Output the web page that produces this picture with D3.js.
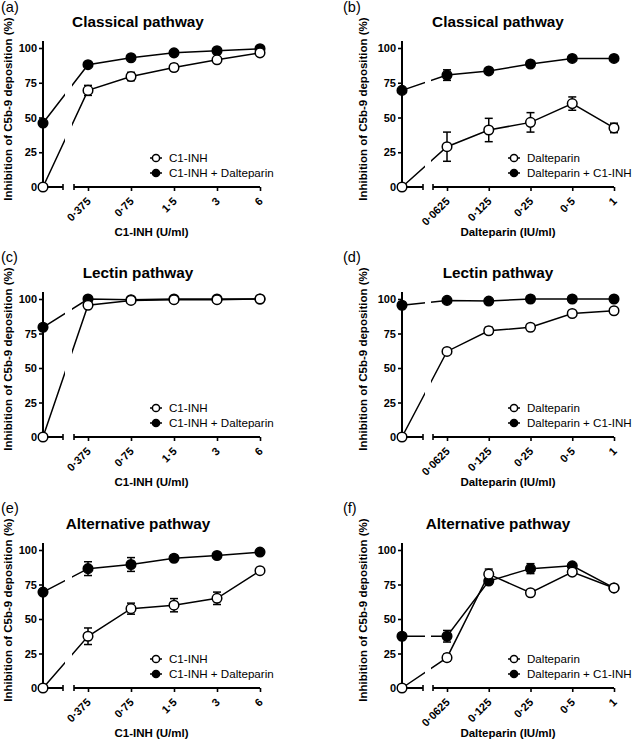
<!DOCTYPE html>
<html><head><meta charset="utf-8">
<script src="https://cdn.jsdelivr.net/npm/d3@7"></script>
<style>
html,body{margin:0;padding:0;background:#fff;}
svg{display:block;font-family:"Liberation Sans",Arial,sans-serif;}
</style></head>
<body><svg id="c" width="633" height="741"></svg>
<script>
// ---- data ----
const concC1 = ["0·375", "0·75", "1·5", "3", "6"];
const concDal = ["0·0625", "0·125", "0·25", "0·5", "1"];
const yTicks = [0, 25, 50, 75, 100];

const panelLetters = ["(a)", "(b)", "(c)", "(d)", "(e)", "(f)"];
const panelTitles = ["Classical pathway", "Classical pathway", "Lectin pathway", "Lectin pathway", "Alternative pathway", "Alternative pathway"];
const xTitles = ["C1-INH (U/ml)", "Dalteparin (IU/ml)"];
const legendC1 = ["C1-INH", "C1-INH + Dalteparin"];
const legendDal = ["Dalteparin", "Dalteparin + C1-INH"];

// first value is the zero-concentration point
const aOpen = [0, 69.5, 79.5, 86, 91.5, 96.5];
const aOpenErr = [0, 3.6, 3, 2.3, 0, 0];
const aFilled = [46, 88, 93, 96.5, 98, 99.5];
const aFilledErr = [0, 0, 0, 0, 0, 0];

const bOpen = [0, 29, 41, 46.5, 60, 42.5];
const bOpenErr = [0, 10.5, 8.4, 7, 4.8, 3.4];
const bFilled = [69.5, 80.5, 83.5, 88.5, 92.5, 92.5];
const bFilledErr = [0, 3.8, 0, 0, 0, 0];

const cOpen = [0, 95.5, 99, 99.5, 99.5, 100];
const cOpenErr = [0, 0, 0, 0, 0, 0];
const cFilled = [79.5, 100, 99.5, 100, 100, 100];
const cFilledErr = [0, 0, 0, 0, 0, 0];

const dOpen = [0, 62, 77, 79.5, 89.5, 91.5];
const dOpenErr = [0, 0, 2.5, 0, 0, 0];
const dFilled = [95.5, 99, 98.5, 100, 100, 100];
const dFilledErr = [0, 0, 0, 0, 0, 0];

const eOpen = [0, 37.5, 57.5, 60, 65, 85];
const eOpenErr = [0, 6, 4, 4.8, 4.5, 0];
const eFilled = [69.5, 86.5, 89.5, 94, 96, 98.5];
const eFilledErr = [0, 5, 5, 2, 0, 0];

const fOpen = [0, 22, 82.5, 69, 84, 72.5];
const fOpenErr = [0, 2.5, 3.7, 0, 0, 0];
const fFilled = [37.5, 37.5, 77.5, 86.5, 88.5, 72.5];
const fFilledErr = [0, 4.2, 0, 3.6, 0, 0];

// ---- layout ----
const cols = [
  {ax: 43, b1: 63, b2: 74, first: 88, last: 260, tx: 138, ylx: 12, lx: 156, conc: concC1, xt: xTitles[0], leg: legendC1, lab: 1},
  {ax: 402, b1: 423, b2: 433, first: 447, last: 614, tx: 498, ylx: 367, lx: 514, conc: concDal, xt: xTitles[1], leg: legendDal, lab: 343}
];
const rows = [
  {y0: 187, y100: 48, lb: 11.5, tb: 27},
  {y0: 437, y100: 299, lb: 262, tb: 278},
  {y0: 688, y100: 550, lb: 512.5, tb: 529}
];
const panels = [
  [aOpen, aOpenErr, aFilled, aFilledErr],
  [bOpen, bOpenErr, bFilled, bFilledErr],
  [cOpen, cOpenErr, cFilled, cFilledErr],
  [dOpen, dOpenErr, dFilled, dFilledErr],
  [eOpen, eOpenErr, eFilled, eFilledErr],
  [fOpen, fOpenErr, fFilled, fFilledErr]
];

const svg = d3.select("#c");
const defs = svg.append("defs");

panels.forEach((pd, pi) => {
  const col = cols[pi % 2], row = rows[Math.floor(pi / 2)];
  const g = svg.append("g");
  const y = d3.scaleLinear().domain([0, 100]).range([row.y0, row.y100]);
  const xs = d3.scalePoint().domain(col.conc).range([col.first, col.last]);
  const xOf = i => i === 0 ? col.ax : xs(col.conc[i - 1]);

  // panel letter & title
  g.append("text").attr("x", col.lab).attr("y", row.lb).attr("font-size", 14.5).text(panelLetters[pi]);
  g.append("text").attr("x", col.tx).attr("y", row.tb).attr("text-anchor", "middle")
    .attr("font-size", 15.3).attr("font-weight", "bold").text(panelTitles[pi]);

  // y axis
  const ya = g.append("g").attr("transform", `translate(${col.ax},0)`)
    .call(d3.axisLeft(y).tickValues(yTicks).tickSize(4).tickPadding(2));
  ya.select(".domain").remove();
  ya.selectAll(".tick line").attr("stroke-width", 1.6);
  ya.selectAll(".tick text").attr("font-size", 11).attr("font-weight", "bold")
    .attr("font-family", "Liberation Sans, Arial, sans-serif").attr("fill", "#000");
  g.append("line").attr("x1", col.ax).attr("x2", col.ax).attr("y1", y(105)).attr("y2", y(0))
    .attr("stroke", "#000").attr("stroke-width", 2);

  // x axis
  const xa = g.append("g").attr("transform", `translate(0,${row.y0})`)
    .call(d3.axisBottom(xs).tickSize(4));
  xa.select(".domain").remove();
  xa.selectAll(".tick line").attr("stroke-width", 1.6);
  xa.selectAll(".tick text").attr("font-size", 11).attr("font-weight", "bold")
    .attr("font-family", "Liberation Sans, Arial, sans-serif").attr("fill", "#000")
    .attr("text-anchor", "end").attr("x", 0).attr("y", 0).attr("dy", 0)
    .attr("transform", "translate(3,15) rotate(-45)");
  [[col.ax, col.b1], [col.b2, col.last]].forEach(s => {
    g.append("line").attr("x1", s[0]).attr("x2", s[1]).attr("y1", row.y0).attr("y2", row.y0)
      .attr("stroke", "#000").attr("stroke-width", 2);
  });
  [col.b1, col.b2].forEach(bx => {
    g.append("line").attr("x1", bx).attr("x2", bx).attr("y1", row.y0 - 3).attr("y2", row.y0 + 3)
      .attr("stroke", "#000").attr("stroke-width", 1.6);
  });

  // axis titles
  g.append("text").attr("x", (col.ax + col.last) / 2).attr("y", row.y0 + 49).attr("text-anchor", "middle")
    .attr("font-size", 11.5).attr("font-weight", "bold").text(col.xt);
  g.append("text").attr("transform", `translate(${col.ylx},${row.y0 - 78}) rotate(-90)`)
    .attr("text-anchor", "middle").attr("font-size", 11.5).attr("font-weight", "bold")
    .text("Inhibition of C5b-9 deposition (%)");

  // clip for break gap
  const cid = "clip" + pi;
  const cp = defs.append("clipPath").attr("id", cid);
  cp.append("rect").attr("x", 0).attr("y", 0).attr("width", col.b1 + 2).attr("height", 741);
  cp.append("rect").attr("x", col.b2 - 2).attr("y", 0).attr("width", 700).attr("height", 741);

  const line = d3.line().x((d, i) => xOf(i)).y(d => y(d));
  const series = [
    {vals: pd[2], err: pd[3], fill: "#000"},
    {vals: pd[0], err: pd[1], fill: "#fff"}
  ];
  series.forEach(s => {
    g.append("path").attr("d", line(s.vals)).attr("fill", "none").attr("stroke", "#000")
      .attr("stroke-width", 1.5).attr("clip-path", `url(#${cid})`);
    s.vals.forEach((v, i) => {
      const e = s.err[i];
      if (e > 0) {
        const x = xOf(i);
        g.append("line").attr("x1", x).attr("x2", x).attr("y1", y(v - e)).attr("y2", y(v + e))
          .attr("stroke", "#000").attr("stroke-width", 1.5);
        [v - e, v + e].forEach(c => g.append("line").attr("x1", x - 4).attr("x2", x + 4)
          .attr("y1", y(c)).attr("y2", y(c)).attr("stroke", "#000").attr("stroke-width", 1.5));
      }
    });
    g.selectAll(null).data(s.vals).enter().append("circle")
      .attr("cx", (d, i) => xOf(i)).attr("cy", d => y(d)).attr("r", 4.8)
      .attr("fill", s.fill).attr("stroke", "#000").attr("stroke-width", 1.5);
  });

  // legend
  const legFill = ["#fff", "#000"];
  col.leg.forEach((t, i) => {
    const ly = row.y0 - 29 + i * 15;
    g.append("line").attr("x1", col.lx - 6).attr("x2", col.lx + 6).attr("y1", ly).attr("y2", ly)
      .attr("stroke", "#000").attr("stroke-width", 1.5);
    g.append("circle").attr("cx", col.lx).attr("cy", ly).attr("r", 3.6)
      .attr("fill", legFill[i]).attr("stroke", "#000").attr("stroke-width", 1.5);
    g.append("text").attr("x", col.lx + 13).attr("y", ly + 4.3).attr("font-size", 11.6).text(t);
  });
});
</script></body></html>
